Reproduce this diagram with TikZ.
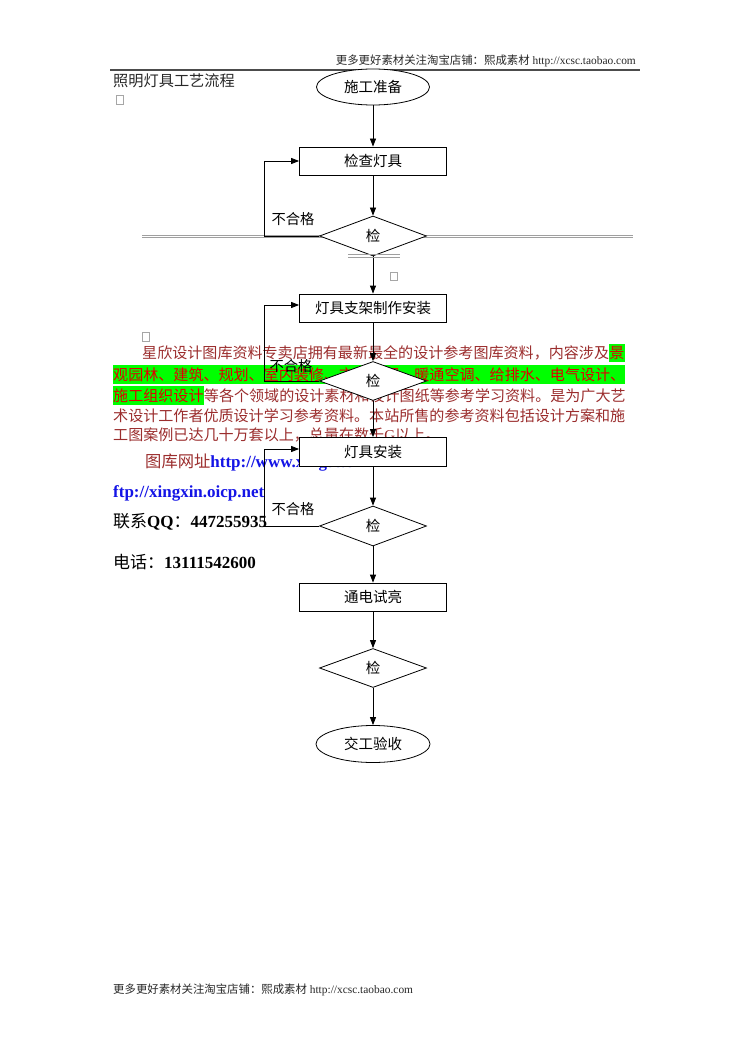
\documentclass[tikz,border=0pt]{standalone}
\usepackage{fontspec}
\setmainfont{Liberation Serif}
\newfontfamily\cjk{Noto Sans CJK SC}
\usetikzlibrary{shapes.geometric,arrows.meta}
\definecolor{parred}{RGB}{155,45,45}
\definecolor{hlred}{RGB}{225,0,0}
\definecolor{hlgreen}{RGB}{0,255,0}
\definecolor{linkblue}{RGB}{20,20,230}
\definecolor{inkgray}{RGB}{40,40,40}
\begin{document}
\begin{tikzpicture}[x=1pt,y=-1pt,
  flowbox/.style={draw, line width=0.8pt, fill=white, rectangle, minimum width=147pt, minimum height=28pt, inner sep=0pt, font=\fontsize{14.5}{14.5}\cjk},
  flowdia/.style={draw, line width=0.8pt, fill=white, diamond, minimum width=107pt, minimum height=40pt, inner sep=0pt, font=\fontsize{14.5}{14.5}\cjk},
  flowend/.style={draw, line width=0.8pt, fill=white, ellipse, minimum width=113pt, minimum height=36pt, inner sep=0pt, font=\fontsize{14.5}{14.5}\cjk},
  conn/.style={line width=0.8pt, -{Triangle[length=8pt,width=6pt]}},
  loopline/.style={line width=0.8pt},
  faillabel/.style={inner sep=0pt, font=\fontsize{14.3}{14.3}\cjk},
  partext/.style={anchor=west, inner sep=0pt, text=parred, font=\fontsize{15.06}{15}\cjk},
  hltext/.style={inner sep=0pt, inner ysep=2.8pt, text=hlred, fill=hlgreen, font=\fontsize{15.06}{15}\cjk},
  contact/.style={anchor=west, inner sep=0pt, font=\fontsize{17}{17}\selectfont},
  missbox/.style={draw=gray!70, line width=0.5pt, inner sep=0pt, minimum width=7pt, minimum height=8.5pt},
  dblrule/.style={draw=gray!75, line width=0.6pt}
]
\useasboundingbox (0,0) rectangle (749,1059);
\fill[white] (0,0) rectangle (749,1059);

% header and footer
\node[anchor=east, inner sep=0pt, text=inkgray, font=\fontsize{11.4}{11.4}\selectfont] (hdr) at (636,61) {{\cjk 更多更好素材关注淘宝店铺：熙成素材}\ http://xcsc.taobao.com};
\draw[line width=1.3pt, gray!60!black] (110,70) -- (640,70);
\node[anchor=west, inner sep=0pt, text=inkgray, font=\fontsize{11.4}{11.4}\selectfont] (ftr) at (113,990) {{\cjk 更多更好素材关注淘宝店铺：熙成素材}\ http://xcsc.taobao.com};

% title
\node[anchor=west, inner sep=0pt, text=inkgray, font=\fontsize{15.2}{15.2}\cjk] (title) at (113,81) {照明灯具工艺流程};
\node[missbox] (sq1) at (119.5,100) {};
\node[missbox] (sq2) at (145.5,336.5) {};
\node[missbox] (sq3) at (394,276) {};

% long double rule
\draw[dblrule] (142,235) -- (633,235);
\draw[dblrule] (142,237.5) -- (633,237.5);

% paragraph
\node[partext] (p1a) at (142,353) {星欣设计图库资料专卖店拥有最新最全的设计参考图库资料，内容涉及};
\node[hltext, anchor=west] (p1b) at (p1a.east) {景};
\node[hltext, anchor=west] (p2) at (113,374.5) {观园林、建筑、规划、室内装修、市政工程、暖通空调、给排水、电气设计、};
\node[hltext, anchor=west] (p3a) at (113,395.5) {施工组织设计};
\node[partext] (p3b) at (p3a.east) {等各个领域的设计素材和设计图纸等参考学习资料。是为广大艺};
\node[partext] (p4) at (113,416) {术设计工作者优质设计学习参考资料。本站所售的参考资料包括设计方案和施};
\node[partext] (p5) at (113,435) {工图案例已达几十万套以上，总量在数千{\rmfamily G}以上。};

% contacts
\node[contact] (web) at (145,463) {{\color{parred}\fontsize{16.3}{16}\cjk 图库网址}{\color{linkblue}\bfseries http://www.xingsc.cn}};
\node[contact, text=linkblue, font=\fontsize{17}{17}\selectfont\bfseries] (ftp) at (113,493) {ftp://xingxin.oicp.net};
\node[contact] (qq) at (113,522) {{\cjk 联系}\textbf{QQ}{\cjk ：}\textbf{447255935}};
\node[contact] (tel) at (113,562) {{\cjk 电话：}\textbf{13111542600}};

% flow chart
\node[flowend] (start) at (373,87) {施工准备};
\node[flowbox] (b1) at (373,161) {检查灯具};
\node[flowdia] (d1) at (373,236) {检};
\node[flowbox] (b2) at (373,308) {灯具支架制作安装};
\node[flowdia, minimum height=39pt] (d2) at (373,381) {检};
\node[flowbox, minimum height=29pt] (b3) at (373,452) {灯具安装};
\node[flowdia] (d3) at (373,526) {检};
\node[flowbox] (b4) at (373,597) {通电试亮};
\node[flowdia, minimum height=39pt] (d4) at (373,668) {检};
\node[flowend, minimum width=114pt, minimum height=37pt] (finish) at (373,744) {交工验收};

\draw[conn] (start.south) -- (b1.north);
\draw[conn] (b1.south) -- (d1.north);
\draw[conn] (d1.south) -- (b2.north);
\draw[conn] (b2.south) -- (d2.north);
\draw[conn] (d2.south) -- (b3.north);
\draw[conn] (b3.south) -- (d3.north);
\draw[conn] (d3.south) -- (b4.north);
\draw[conn] (b4.south) -- (d4.north);
\draw[conn] (d4.south) -- (finish.north);

% return loops
\coordinate (k1) at (264,161);
\coordinate (k2) at (264,305);
\coordinate (k3) at (264,449);
\draw[conn] (d1.west) -| (k1) -- (b1.west);
\draw[conn] (d2.west) -| (k2) -- (k2 -| b2.west);
\draw[conn] (d3.west) -| (k3) -- (k3 -| b3.west);

\node[faillabel] (f1) at (293,219) {不合格};
\node[faillabel] (f2) at (291,366) {不合格};
\node[faillabel] (f3) at (293,509) {不合格};

% short double rule under first check
\draw[dblrule] (348,254.5) -- (400,254.5);
\draw[dblrule] (348,257) -- (400,257);
\end{tikzpicture}
\end{document}
